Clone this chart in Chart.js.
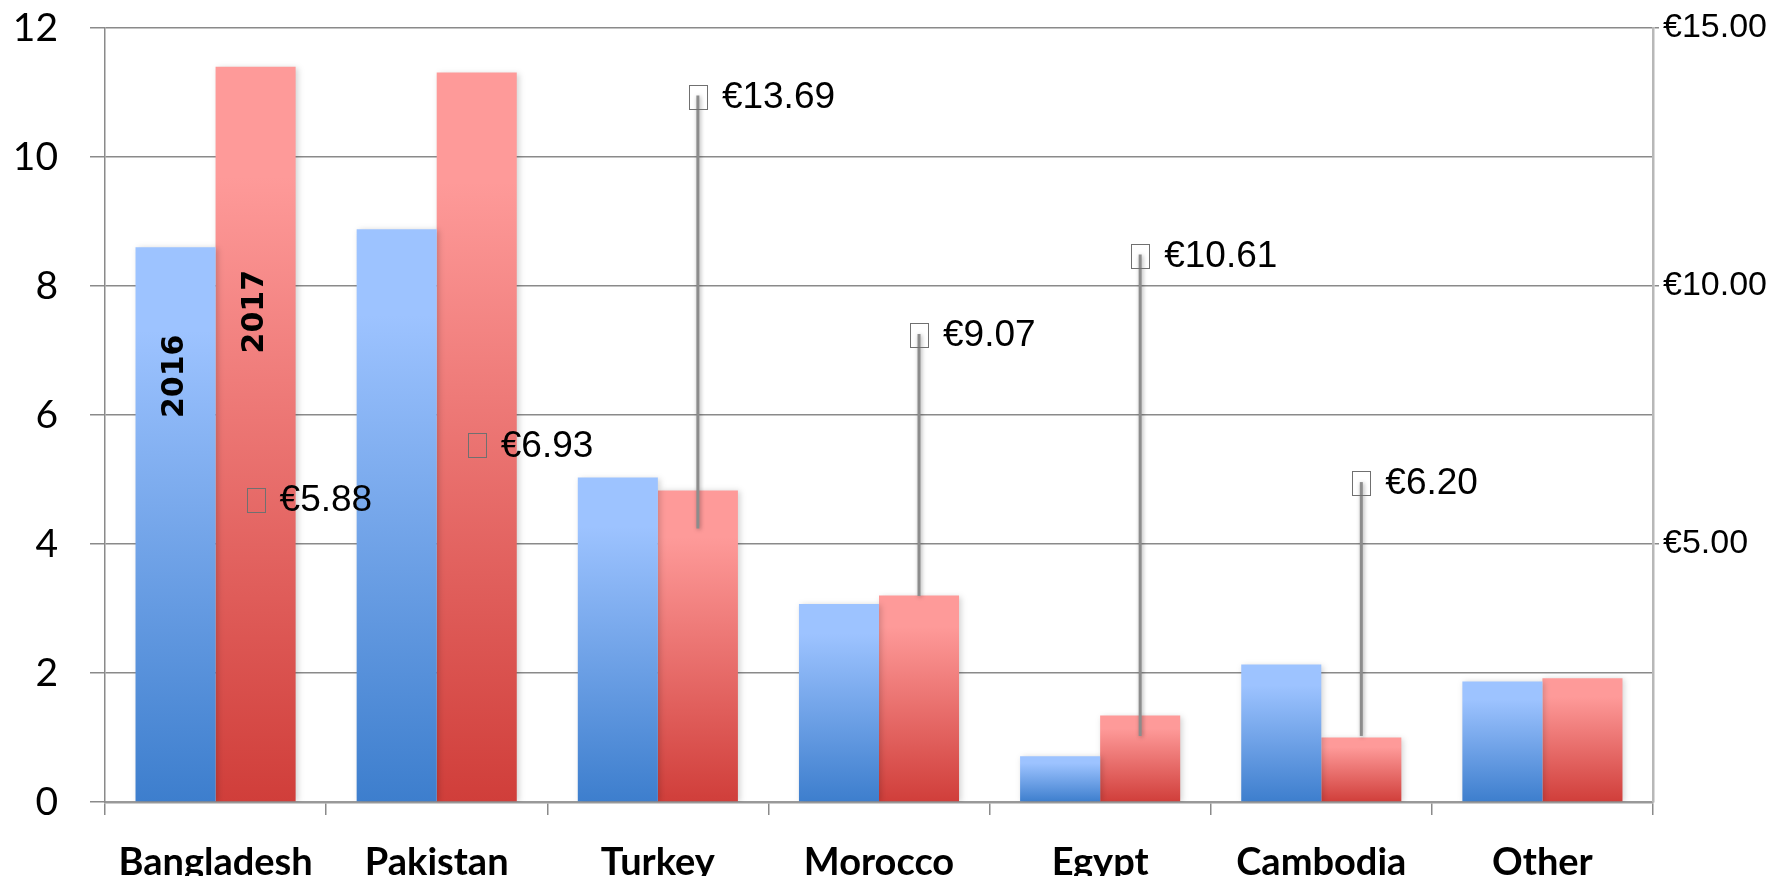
<!DOCTYPE html>
<html>
<head>
<meta charset="utf-8">
<script src="https://cdn.jsdelivr.net/npm/chart.js@4.4.0/dist/chart.umd.min.js"></script>
<style>
  html, body { margin: 0; padding: 0; background: #fff; overflow: hidden; }
  #chart { display: block; }
</style>
</head>
<body>
<canvas id="chart" width="1783" height="876"></canvas>
<script>
// values
const categories = ['Bangladesh', 'Pakistan', 'Turkey', 'Morocco', 'Egypt', 'Cambodia', 'Other'];
const values2016 = [8.6, 8.88, 5.03, 3.07, 0.71, 2.13, 1.87];
const values2017 = [11.4, 11.31, 4.83, 3.2, 1.34, 1.0, 1.92];
// price per item (right axis, EUR) and where its drop line ends
const priceEur = [5.88, 6.93, 13.69, 9.07, 10.61, 6.20, null];
const priceLineLow = [5.88, 6.93, 5.3, 3.99, 1.28, 1.28, null];
const leftTicks = [0, 2, 4, 6, 8, 10, 12];
const rightTicks = [5, 10, 15];

const gridGray = '#8a8a8a';

// vertical gradient over each bar's own height
const barFill = (light, dark) => (ctx) => {
  const chart = ctx.chart;
  if (!chart.chartArea || ctx.raw == null) return light;
  const ys = chart.scales.y;
  const top = ys.getPixelForValue(ctx.raw);
  const bottom = ys.getPixelForValue(0);
  const g = chart.ctx.createLinearGradient(0, top, 0, bottom);
  g.addColorStop(0, light);
  g.addColorStop(0.15, light);
  g.addColorStop(1, dark);
  return g;
};

const overlay = {
  id: 'overlay',
  beforeDatasetsDraw(chart) {
    const ctx = chart.ctx;
    ctx.save();
    ctx.shadowColor = 'rgba(0,0,0,0.18)';
    ctx.shadowBlur = 6;
    ctx.shadowOffsetX = 2;
    ctx.shadowOffsetY = 1;
  },
  beforeDatasetDraw(chart, args) {
    if (args.index === 2) return false; // drawn on top later
  },
  afterDatasetsDraw(chart) {
    const ctx = chart.ctx;
    ctx.restore();

    // drop lines on top of the bars
    const meta = chart.getDatasetMeta(2);
    ctx.save();
    ctx.shadowColor = 'rgba(0,0,0,0.35)';
    ctx.shadowBlur = 4;
    ctx.shadowOffsetX = 1;
    ctx.shadowOffsetY = 1;
    meta.data.forEach((el) => el.draw(ctx));
    ctx.restore();

    // box markers + euro labels
    ctx.save();
    meta.data.forEach((el, i) => {
      const v = priceEur[i];
      if (v == null) return;
      ctx.strokeStyle = '#707070';
      ctx.lineWidth = 1;
      ctx.strokeRect(Math.round(el.x) - 8.5, Math.round(el.y) - 10.5, 18, 24);
      ctx.fillStyle = '#000';
      ctx.font = '37px "Liberation Sans", Arial, sans-serif';
      ctx.textAlign = 'left';
      ctx.textBaseline = 'middle';
      ctx.fillText('€' + v.toFixed(2), el.x + 24, el.y + 2);
    });
    ctx.restore();

    // series names inside the first pair of bars
    const b0 = chart.getDatasetMeta(0).data[0];
    const b1 = chart.getDatasetMeta(1).data[0];
    const rot = (txt, x, y) => {
      ctx.save();
      ctx.translate(x, y);
      ctx.rotate(-Math.PI / 2);
      ctx.font = 'bold 30px "DejaVu Sans", sans-serif';
      ctx.fillStyle = '#000';
      ctx.textAlign = 'center';
      ctx.textBaseline = 'middle';
      ctx.fillText(txt, 0, 0);
      ctx.restore();
    };
    rot('2016', b0.x, b0.y + 129);
    rot('2017', b1.x, b1.y + 245);
  }
};

new Chart(document.getElementById('chart').getContext('2d'), {
  type: 'bar',
  data: {
    labels: categories,
    datasets: [
      {
        label: '2016',
        data: values2016,
        yAxisID: 'y',
        stack: 'a',
        backgroundColor: barFill('#9dc3ff', '#3d7ecd'),
        categoryPercentage: 0.724,
        barPercentage: 1,
        borderWidth: 0
      },
      {
        label: '2017',
        data: values2017,
        yAxisID: 'y',
        stack: 'b',
        backgroundColor: barFill('#fe9a99', '#d03e3a'),
        categoryPercentage: 0.724,
        barPercentage: 1,
        borderWidth: 0
      },
      {
        label: 'Price',
        data: priceEur.map((v, i) => (v == null ? null : [priceLineLow[i], v])),
        yAxisID: 'y2',
        stack: 'b',
        backgroundColor: '#8c8c8c',
        maxBarThickness: 3,
        categoryPercentage: 0.724,
        barPercentage: 1,
        borderWidth: 0
      }
    ]
  },
  options: {
    responsive: false,
    animation: false,
    devicePixelRatio: 1,
    layout: { padding: { top: 28, left: 0, right: 0, bottom: 0 } },
    plugins: {
      legend: { display: false },
      tooltip: { enabled: false }
    },
    scales: {
      x: {
        offset: true,
        grid: { drawOnChartArea: false, tickLength: 13, color: gridGray, lineWidth: 1.5, offset: true },
        border: { color: '#999', width: 2.5 },
        ticks: {
          color: '#000',
          font: { family: 'Lato', weight: 'bold', size: 38 },
          padding: 25,
          maxRotation: 0,
          autoSkip: false
        },
        afterFit: (s) => { s.height = 74; }
      },
      y: {
        position: 'left',
        stacked: false,
        min: 0,
        max: 12,
        afterBuildTicks: (s) => { s.ticks = leftTicks.map((v) => ({ value: v })); },
        grid: { color: gridGray, lineWidth: 1.5, tickLength: 15 },
        border: { color: gridGray, width: 1.5 },
        ticks: { color: '#000', font: { family: 'Lato', size: 39 }, padding: 32 },
        afterFit: (s) => { s.width = 105; s.paddingTop = 0; s.paddingBottom = 0; }
      },
      y2: {
        position: 'right',
        stacked: false,
        min: 0,
        max: 15,
        afterBuildTicks: (s) => { s.ticks = rightTicks.map((v) => ({ value: v })); },
        grid: { drawOnChartArea: false, tickLength: 6, color: gridGray, lineWidth: 1.5 },
        border: { color: '#b8b8b8', width: 2.5 },
        ticks: {
          color: '#000',
          font: { family: '"Liberation Sans", Arial, sans-serif', size: 34 },
          padding: 4,
          callback: (v) => '€' + Number(v).toFixed(2)
        },
        afterFit: (s) => { s.width = 130; s.paddingTop = 0; s.paddingBottom = 0; }
      }
    }
  },
  plugins: [overlay]
});
</script>
</body>
</html>
